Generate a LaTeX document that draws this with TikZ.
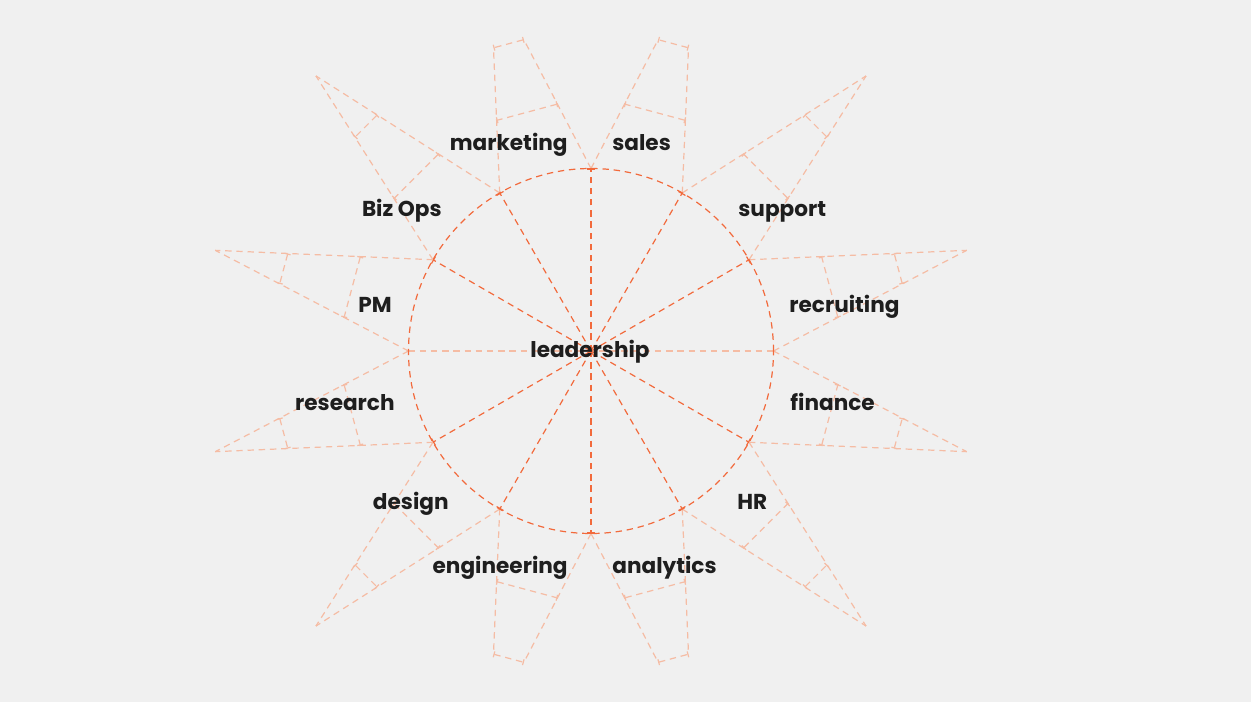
\documentclass[tikz,border=0pt]{standalone}
\usepackage{fontspec}
\setmainfont{Poppins}
\usetikzlibrary{calc,arrows.meta}
\definecolor{spokecol}{HTML}{F26A3C}
\definecolor{petalcol}{HTML}{F5BCA4}
\definecolor{paper}{HTML}{F0F0F0}
\definecolor{ink}{HTML}{1E1E1E}

\begin{document}
\begin{tikzpicture}[x=0.5pt,y=0.5pt,
    spoke/.style ={draw=spokecol, line width=0.6pt, dash pattern=on 3.2pt off 2.4pt},
    petal/.style ={draw=petalcol, line width=0.6pt, dash pattern=on 3.2pt off 2.4pt},
    crossbar/.style ={petal, {Bar[width=3pt]}-{Bar[width=3pt]}},
    team/.style ={font=\bfseries\fontsize{10.8}{13}\selectfont, text=ink, inner sep=0pt}]
   \fill[paper] (-591,-351) rectangle (660,351);
   \useasboundingbox (-591,-351) rectangle (660,351);

   \coordinate (O) at (0,0);
   \foreach \a in {0,30,...,330}
     \coordinate (c\a) at (\a:182.5);

   % petals
   \foreach \a/\f in {15/1,45/1,75/0.667,105/0.667,135/1,165/1,
                      195/1,225/1,255/0.667,285/0.667,315/1,345/1}{
     \coordinate (r) at (\a-15:182.5);
     \coordinate (l) at (\a+15:182.5);
     \coordinate (tip) at (\a:389);
     \draw[petal] (r) to ($(r)!\f!(tip)$);
     \draw[petal] (l) to ($(l)!\f!(tip)$);
     \draw[crossbar] ($(r)!1/3!(tip)$) to ($(l)!1/3!(tip)$);
     \draw[crossbar] ($(r)!2/3!(tip)$) to ($(l)!2/3!(tip)$);
   }

   % spokes
   \draw[petal] (c180) to (c0);
   \foreach \a in {30,60,90,120,150,210,240,270,300,330}
     \draw[spoke, -{Bar[width=4pt]}] (O) to (c\a);
   \draw[spoke] (O) circle[radius=182.5];

   \node[team, anchor=base]      (leadership)  at (-1,-6)     {leadership};
   \node[team, anchor=base east] (marketing)   at (-23,200)   {marketing};
   \node[team, anchor=base west] (sales)       at (21,200)    {sales};
   \node[team, anchor=base east] (bizops)      at (-149,135)  {Biz Ops};
   \node[team, anchor=base west] (support)     at (147,135)   {support};
   \node[team, anchor=base east] (pm)          at (-199,39)   {PM};
   \node[team, anchor=base west] (recruiting)  at (198,39)    {recruiting};
   \node[team, anchor=base east] (research)    at (-196,-59)  {research};
   \node[team, anchor=base west] (finance)     at (199,-59)   {finance};
   \node[team, anchor=base east] (design)      at (-142,-158) {design};
   \node[team, anchor=base west] (hr)          at (146,-158)  {HR};
   \node[team, anchor=base east] (engineering) at (-23,-222)  {engineering};
   \node[team, anchor=base west] (analytics)   at (21,-222)   {analytics};
 \end{tikzpicture}
\end{document}
